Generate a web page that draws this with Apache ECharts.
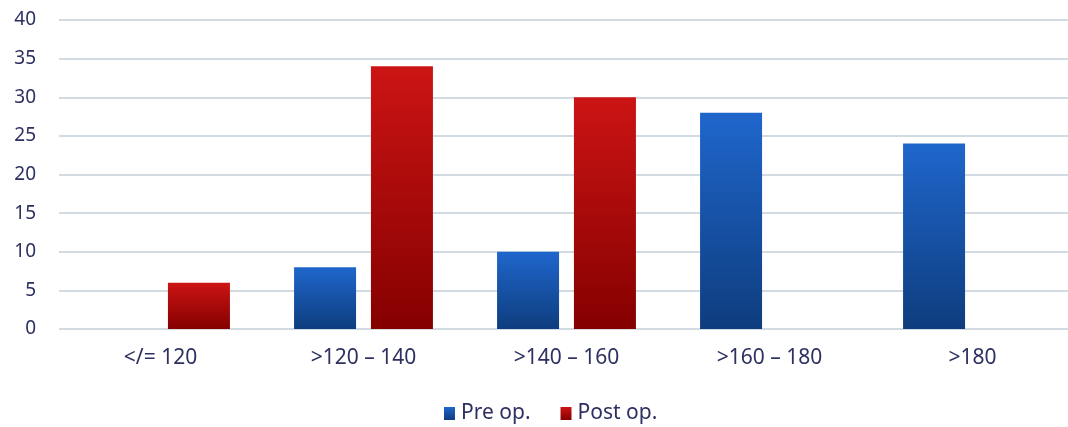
<!DOCTYPE html>
<html><head><meta charset="utf-8">
<script src="https://cdn.jsdelivr.net/npm/echarts@6/dist/echarts.min.js"></script>
<style>html,body{margin:0;padding:0;background:#fff;overflow:hidden}#c{width:1074px;height:427px}</style>
</head><body><div id="c"></div>
<script>
const categories = ["</= 120", ">120 – 140", ">140 – 160", ">160 – 180", ">180"];
const preOp = [0, 8, 10, 28, 24];
const postOp = [6, 34, 30, 0, 0];
const yTicks = { min: 0, max: 40, interval: 5 };

const chart = echarts.init(document.getElementById('c'));
const grad = (top, bottom) => new echarts.graphic.LinearGradient(0, 0, 0, 1, [
  { offset: 0, color: top }, { offset: 1, color: bottom }]);
const txt = '#2d3060';
chart.setOption({
  animation: false,
  textStyle: { fontFamily: 'Noto Sans' },
  grid: { left: 59, right: 0, top: 20, height: 309 },
  legend: {
    top: 403, left: 444, padding: 0, itemWidth: 11, itemHeight: 13, itemGap: 30,
    icon: 'rect',
    textStyle: { fontSize: 21, color: txt, fontFamily: 'Noto Sans', padding: [0, 0, 0, 1] },
    data: ['Pre op.', 'Post op.']
  },
  xAxis: {
    type: 'category', data: categories,
    axisLine: { show: false }, axisTick: { show: false },
    axisLabel: { fontSize: 21, color: txt, margin: 19 }
  },
  yAxis: {
    type: 'value', min: yTicks.min, max: yTicks.max, interval: yTicks.interval,
    axisLine: { show: false }, axisTick: { show: false },
    axisLabel: { fontSize: 19, color: txt, margin: 23 },
    splitLine: { lineStyle: { color: '#d3dbe2', width: 2 } }
  },
  series: [
    { name: 'Pre op.', type: 'bar', data: preOp, barWidth: 62, barGap: '24%',
      itemStyle: { color: grad('#1f66cc', '#0e3d7e') } },
    { name: 'Post op.', type: 'bar', data: postOp, barWidth: 62,
      itemStyle: { color: grad('#cc1414', '#850000') } }
  ]
});
</script></body></html>
